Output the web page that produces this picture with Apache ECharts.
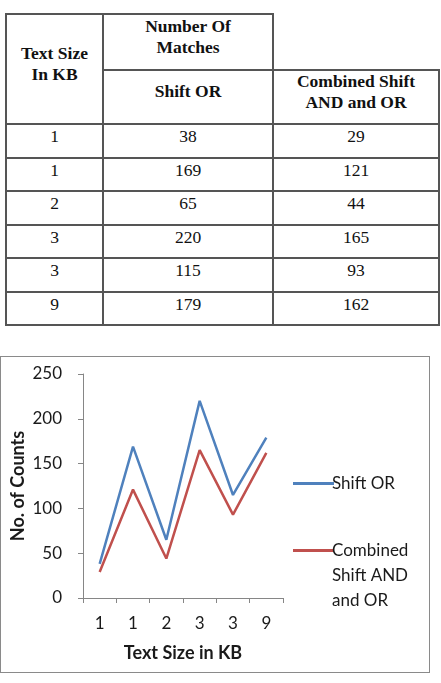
<!DOCTYPE html>
<html><head><meta charset="utf-8">
<script src="https://cdn.jsdelivr.net/npm/echarts@6/dist/echarts.min.js"></script>
<style>
html,body{margin:0;padding:0;background:#fff;width:441px;height:683px;overflow:hidden;}
#tbl{position:absolute;left:5px;top:13px;border-collapse:collapse;font-family:"Liberation Serif","Times New Roman",serif;font-size:17.5px;color:#111;}
#tbl td{border:2px solid #555;text-align:center;padding:0;}
#tbl td.h{font-weight:bold;line-height:21px;vertical-align:middle;padding-bottom:10px;box-sizing:border-box;}
#tbl td.d{vertical-align:top;line-height:19px;padding-top:2px;height:33.5px;box-sizing:border-box;}
#tbl td.blank{border-top:none;border-right:none;}
#chartBox{position:absolute;left:0px;top:356px;width:428px;height:315px;border:1.5px solid #8a8a8a;}
#chart{width:428px;height:315px;}
</style></head>
<body>
<table id="tbl">
<colgroup><col style="width:97px"><col style="width:170px"><col style="width:166px"></colgroup>
<tbody id="tbody"></tbody>
</table>
<div id="chartBox"><div id="chart"></div></div>
<script>
var categories = ['1', '1', '2', '3', '3', '9'];
var shiftOR = [38, 169, 65, 220, 115, 179];
var combined = [29, 121, 44, 165, 93, 162];
var seriesNames = ['Shift OR', 'Combined Shift AND and OR'];
var yTicks = [0, 50, 100, 150, 200, 250];

// table
var tb = document.getElementById('tbody');
var html = '';
html += '<tr style="height:55px"><td class="h" rowspan="2" style="height:110px">Text Size<br>In KB</td>' +
        '<td class="h">Number Of<br>Matches</td><td class="blank"></td></tr>';
html += '<tr style="height:54px"><td class="h">Shift OR</td><td class="h">Combined Shift<br>AND and OR</td></tr>';
for (var i = 0; i < categories.length; i++) {
  html += '<tr><td class="d">' + categories[i] + '</td><td class="d">' + shiftOR[i] + '</td><td class="d">' + combined[i] + '</td></tr>';
}
tb.innerHTML = html;

var chart = echarts.init(document.getElementById('chart'), null, {renderer: 'canvas'});
var font = 'Lato, "Open Sans", sans-serif';
var axisColor = '#868686';
var txt = '#1a1a1a';
chart.setOption({
  animation: false,
  textStyle: {fontFamily: font},
  grid: {left: 82, top: 17, right: 146, bottom: 74, containLabel: false},
  legend: [
    {
      data: [seriesNames[0]], orient: 'vertical', left: 287, top: 109,
      icon: 'rect', itemWidth: 41, itemHeight: 3, itemGap: 0,
      formatter: function () { return 'Shift OR'; },
      textStyle: {fontFamily: font, fontSize: 17, color: txt, lineHeight: 25, padding: [0, 0, 0, -7]}
    },
    {
      data: [seriesNames[1]], orient: 'vertical', left: 287, top: 126,
      icon: 'rect', itemWidth: 41, itemHeight: 3, itemGap: 0,
      formatter: function () { return '\n\nCombined\nShift AND\nand OR'; },
      textStyle: {fontFamily: font, fontSize: 17, color: txt, lineHeight: 25, padding: [0, 0, 0, -7]}
    }
  ],
  xAxis: {
    type: 'category', data: categories, boundaryGap: true,
    name: 'Text Size in KB', nameLocation: 'middle', nameGap: 46,
    nameTextStyle: {fontFamily: font, fontSize: 18, fontWeight: 'bold', color: txt},
    axisLine: {lineStyle: {color: axisColor, width: 1}},
    axisTick: {show: true, length: 5, alignWithLabel: false, lineStyle: {color: axisColor}},
    axisLabel: {fontFamily: font, fontSize: 17, color: txt, margin: 17}
  },
  yAxis: {
    type: 'value', min: 0, max: 250, interval: 50,
    name: 'No. of Counts', nameLocation: 'middle', nameGap: 56,
    nameTextStyle: {fontFamily: font, fontSize: 18, fontWeight: 'bold', color: txt},
    axisLine: {show: true, lineStyle: {color: axisColor, width: 1}},
    axisTick: {show: true, length: 5, lineStyle: {color: axisColor}},
    splitLine: {show: false},
    axisLabel: {fontFamily: font, fontSize: 17, color: txt, margin: 21,
      formatter: function (v) { return yTicks.indexOf(v) >= 0 ? String(v) : ''; }}
  },
  series: [
    {name: seriesNames[0], type: 'line', data: shiftOR, showSymbol: false, symbol: 'none',
     lineStyle: {color: '#4F81BD', width: 2.5}, itemStyle: {color: '#4F81BD'}},
    {name: seriesNames[1], type: 'line', data: combined, showSymbol: false, symbol: 'none',
     lineStyle: {color: '#C0504D', width: 2.5}, itemStyle: {color: '#C0504D'}}
  ]
});
</script>
</body></html>
